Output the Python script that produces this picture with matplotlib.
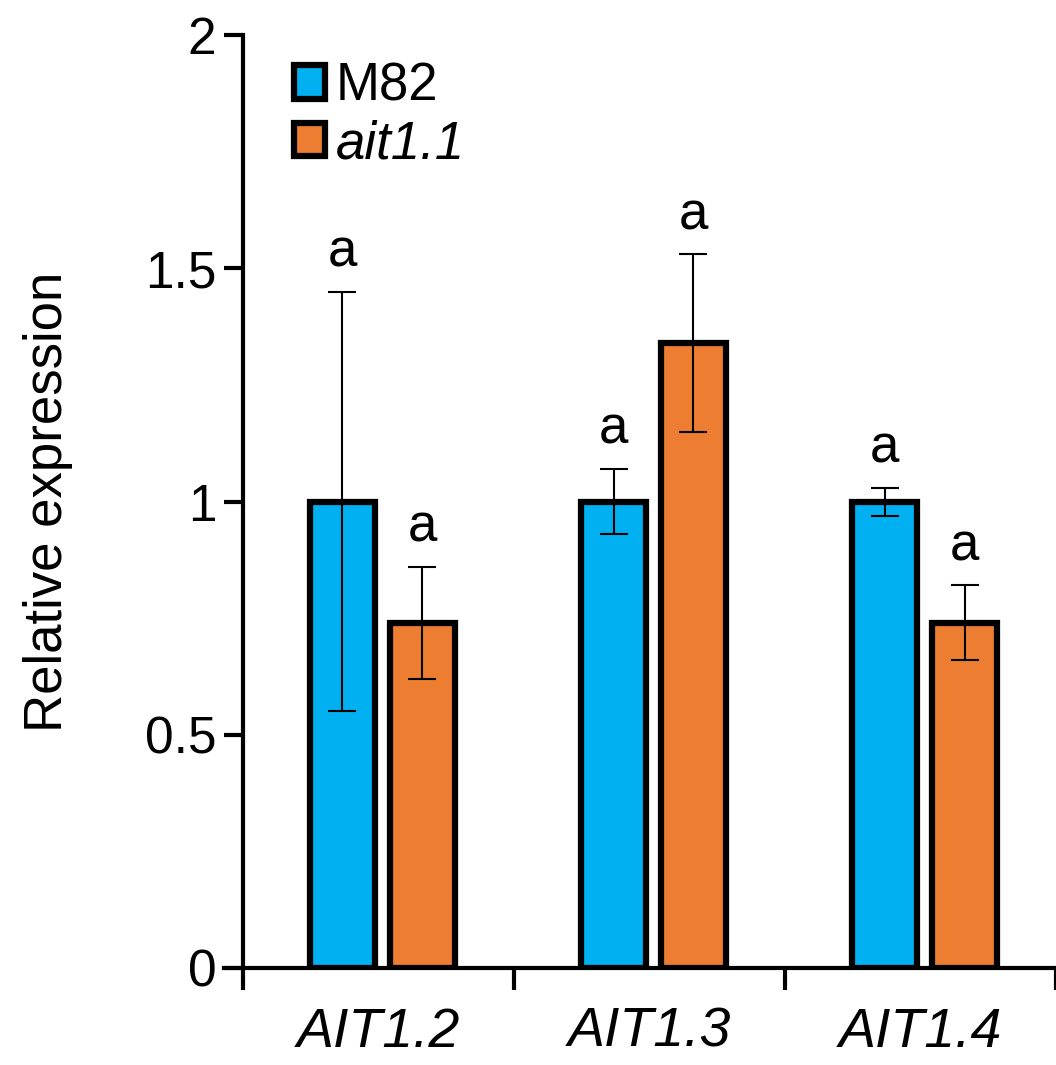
import numpy as np
import matplotlib
matplotlib.use("Agg")
from matplotlib import pyplot as plt
from matplotlib.patches import Patch

plt.rcParams['font.family'] = ['Liberation Sans', 'DejaVu Sans']

genes = ["AIT1.2", "AIT1.3", "AIT1.4"]
m82 = [1.0, 1.0, 1.0]
m82_err = [0.45, 0.07, 0.03]
ait = [0.74, 1.34, 0.74]
ait_err = [0.12, 0.19, 0.08]
m82_letters = ["a", "a", "a"]
ait_letters = ["a", "a", "a"]

blue = "#00b0f0"
orange = "#ed7d31"

fig = plt.figure(figsize=(10.56, 10.65), dpi=100)
ax = fig.add_axes([0.230, 0.0911, 0.770, 0.876])

x = np.arange(len(genes)) + 0.5
w = 0.24
gap = 0.055
xb = x - w / 2 - gap / 2 + 0.015
xo = x + w / 2 + gap / 2 + 0.015

ax.bar(xb, m82, w, color=blue, edgecolor="black", linewidth=4.5, zorder=2)
ax.bar(xo, ait, w, color=orange, edgecolor="black", linewidth=4.5, zorder=2)
ax.errorbar(xb, m82, yerr=m82_err, fmt="none", ecolor="black", elinewidth=1.5,
            capsize=10, capthick=1.5, zorder=3)
ax.errorbar(xo, ait, yerr=ait_err, fmt="none", ecolor="black", elinewidth=1.5,
            capsize=10, capthick=1.5, zorder=3)

for xi, v, e, t in zip(list(xb) + list(xo), m82 + ait, m82_err + ait_err,
                       m82_letters + ait_letters):
    ax.annotate(t, (xi, v + e), xytext=(0, 10), textcoords="offset points",
                ha="center", va="bottom", fontsize=38)

ax.set_xlim(0, 3)
ax.set_ylim(0, 2)
ax.set_xticks([0, 1, 2, 3])
ax.set_xticklabels([])
ax.set_xticks(x, minor=True)
ax.set_xticklabels(genes, minor=True, fontstyle="italic", fontsize=40)
ax.tick_params(axis="x", which="minor", length=0, pad=28)
ax.tick_params(axis="x", which="major", direction="out", length=16, width=3)
ax.set_yticks([0, 0.5, 1, 1.5, 2])
ax.set_yticklabels(["0", "0.5", "1", "1.5", "2"], fontsize=37)
ax.tick_params(axis="y", direction="out", length=14, width=3, pad=5)
ax.set_ylabel("Relative expression", fontsize=38, labelpad=52)

for s in ["top", "right"]:
    ax.spines[s].set_visible(False)
for s in ["left", "bottom"]:
    ax.spines[s].set_linewidth(3)
ax.spines["bottom"].set_bounds(-0.07, 3)
ax.spines["left"].set_zorder(4)

handles = [Patch(facecolor=blue, edgecolor="black", linewidth=4.5),
           Patch(facecolor=orange, edgecolor="black", linewidth=4.5)]
leg = ax.legend(handles, ["M82", "ait1.1"], loc="upper left",
                bbox_to_anchor=(0.03, 1.0), frameon=False, fontsize=38,
                handlelength=0.6, handleheight=0.6, handletextpad=0.2,
                labelspacing=0.15, borderaxespad=0.1)
leg.get_texts()[1].set_fontstyle("italic")

fig.savefig("out.png", dpi=100)
